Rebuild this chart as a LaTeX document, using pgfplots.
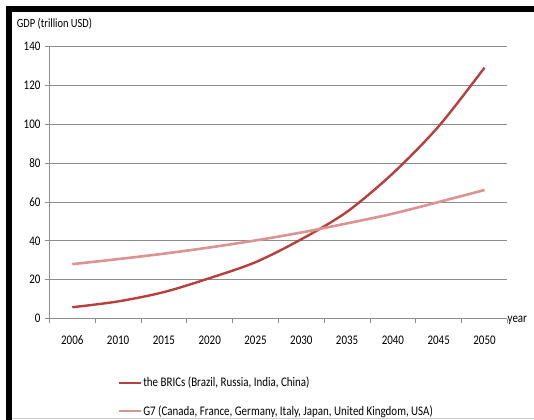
\documentclass[border=0pt]{standalone}
\usepackage{pgfplots}
\pgfplotsset{compat=1.18}
\usepackage{graphicx}
\usepackage{fontspec}
\setmainfont{Carlito}
\definecolor{bric}{HTML}{B7403D}
\definecolor{gseven}{HTML}{DB9492}
\definecolor{gridc}{HTML}{8C8C8C}
\newcommand\vs[1]{\scalebox{1}[1.2]{#1}}
\begin{document}
\begin{tikzpicture}
\path[use as bounding box] (0,0) rectangle (534bp,-420bp);
\fill[white] (0,0) rectangle (534bp,-420bp);
\fill[black] (6bp,-6bp) rectangle (534bp,-12bp);
\fill[black] (6bp,-6bp) rectangle (12bp,-420bp);
\draw[gray!40, line width=0.8bp] (12bp,-418bp) -- (534bp,-418bp);
\node[anchor=west, inner sep=0pt, font=\fontsize{10.5}{12}\selectfont] at (16.7bp,-24bp) {\vs{GDP (trillion USD)}};
\node[anchor=west, inner sep=0pt, font=\fontsize{11}{13}\selectfont] at (507.5bp,-320bp) {\vs{year}};
\begin{axis}[
  at={(49.4bp,-318.5bp)}, anchor=south west,
  scale only axis, width=458bp, height=271.8bp,
  xmin=-0.5, xmax=9.5, ymin=0, ymax=140,
  axis x line*=bottom, axis y line*=left,
  axis line style={gridc, line width=0.8bp, -},
  xtick={-0.5,0.5,...,9.5},
  xticklabels={\vs{2006},\vs{2010},\vs{2015},\vs{2020},\vs{2025},\vs{2030},\vs{2035},\vs{2040},\vs{2045},\vs{2050},{}},
  xticklabel style={xshift=22.9bp, yshift=-9bp},
  ytick={0,20,...,140},
  yticklabel={\vs{\pgfmathprintnumber{\tick}}},
  yticklabel style={xshift=-1bp},
  ymajorgrids, grid style={gridc, line width=0.8bp},
  tick align=outside, major tick length=4.5bp,
  tick style={gridc, line width=0.8bp},
  /pgf/number format/assume math mode=true,
  tick label style={font=\fontsize{11}{13}\selectfont},
  legend style={at={(0.1487,-0.212)}, anchor=north west, draw=none, fill=none,
    font=\fontsize{11}{13}\selectfont, row sep=15bp, inner sep=0pt,
    nodes={inner sep=1pt}},
  legend cell align=left,
  legend image code/.code={\draw[#1] (0bp,0bp) -- (22bp,0bp);},
  clip=false,
]
\addplot[bric, line width=2.4bp, smooth] coordinates {
 (0,5.8) (1,8.8) (2,13.6) (3,20.8) (4,29.0) (5,40.8) (6,55.0) (7,74.8) (8,99.0) (9,129.2)};
\addlegendentry{\vs{the BRICs (Brazil, Russia, India, China)}}
\addplot[gseven, line width=2.6bp, smooth] coordinates {
 (0,28.0) (1,30.6) (2,33.4) (3,36.6) (4,40.2) (5,44.3) (6,49.0) (7,54.0) (8,60.0) (9,66.2)};
\addlegendentry{\vs{G7 (Canada, France, Germany, Italy, Japan, United Kingdom, USA)}}
\end{axis}
\end{tikzpicture}
\end{document}
